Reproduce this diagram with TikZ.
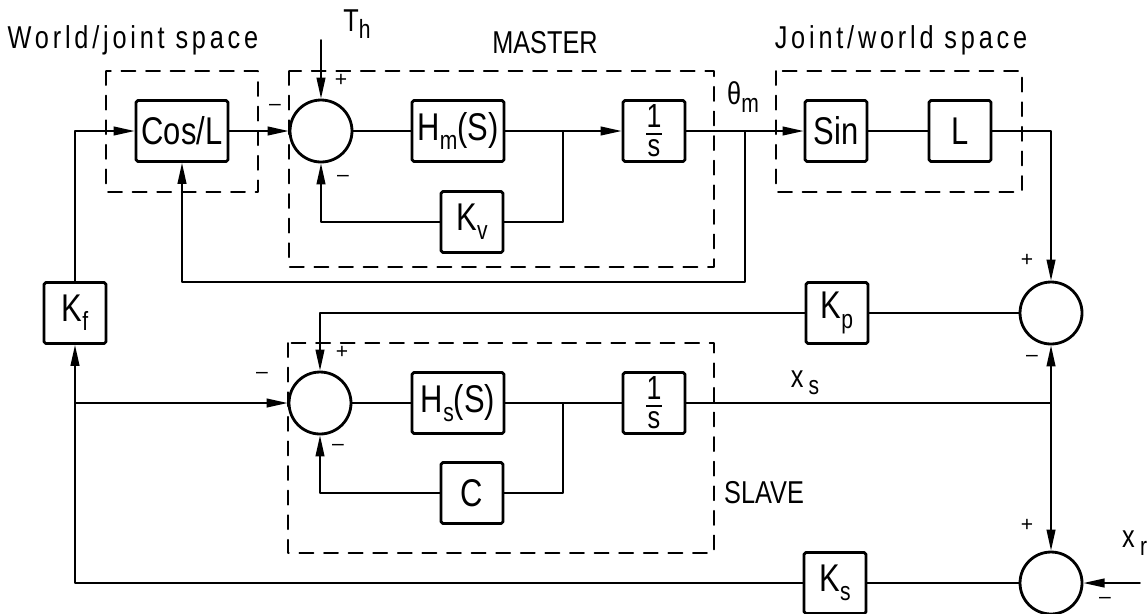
\documentclass[tikz,border=0pt]{standalone}
\usepackage{fontspec}
\setmainfont{Liberation Sans}
\newfontfamily\isofont[FakeStretch=0.8]{Liberation Sans}
\newfontfamily\isospaced[FakeStretch=0.8,LetterSpace=12]{Liberation Sans}
\usetikzlibrary{arrows.meta}
\newcommand{\lowsub}[1]{\raisebox{-0.45ex}{\fontsize{15}{15}\selectfont #1}}
\newcommand{\invs}{\vbox{\offinterlineskip\halign{\hfil##\hfil\cr
  \fontsize{19}{19}\selectfont 1\cr\noalign{\kern3pt}\rule{9pt}{0.8pt}\cr
  \noalign{\kern3pt}\fontsize{18}{18}\selectfont s\cr}}}
\tikzset{
  tp diagram/.style={x=0.02cm, y=-0.02cm, line cap=round, line join=round,
    font=\isofont\fontsize{22}{24}\selectfont},
  tp box/.style={draw, line width=1.6pt, rounded corners=1pt,
    minimum width=1.24cm, minimum height=1.22cm, inner sep=0pt},
  tp wide box/.style={tp box, minimum width=1.84cm},
  tp sum/.style={draw, circle, line width=1.6pt, minimum size=1.24cm, inner sep=0pt},
  tp line/.style={line width=1pt},
  tp arrow/.style={tp line, -{Triangle[length=12pt,width=5pt]}},
  tp frame/.style={line width=1pt, dash pattern=on 8pt off 6pt},
  tp title/.style={font=\isospaced\fontsize{18}{20}\selectfont},
  tp caps/.style={font=\isofont\fontsize{18}{20}\selectfont},
  tp sign/.style={font=\fontsize{12}{12}\selectfont, inner sep=0pt}
}
\begin{document}
\begin{tikzpicture}[tp diagram]
\useasboundingbox (0,0) rectangle (1148,613);
% dashed frames
\draw[tp frame] (106,71) rectangle (258,192);
\draw[tp frame] (289,71) rectangle (714,267);
\draw[tp frame] (776,71) rectangle (1022,192);
\draw[tp frame] (288,343) rectangle (714,553);
% master loop
\node[tp wide box] (cos) at (182,131) {Cos/L};
\node[tp sum] (sum m) at (321,131) {};
\node[tp wide box] (hm) at (458,131) {H\lowsub{m}(S)};
\node[tp box] (int m) at (654,131) {\invs};
\node[tp box] (kv) at (472,222) {K\lowsub{v}};
\node[tp box] (sin) at (836,131) {Sin};
\node[tp box] (lbox) at (960,131) {L};
% slave loop
\node[tp sum] (sum s) at (320,403) {};
\node[tp wide box] (hs) at (458,403) {H\lowsub{s}(S)};
\node[tp box] (int s) at (654,403) {\invs};
\node[tp box] (cbox) at (472,493) {C};
% gains and comparators
\node[tp box] (kf) at (75,313) {K\lowsub{f}};
\node[tp box] (kp) at (837,313) {K\lowsub{p}};
\node[tp box] (ks) at (835,583) {K\lowsub{s}};
\node[tp sum] (sum p) at (1051,313) {};
\node[tp sum] (sum e) at (1051,583) {};
\coordinate (th in) at (321,40);
\coordinate (kv tap) at (563,131);
\coordinate (theta tap) at (745,131);
\coordinate (kf tap) at (75,403);
\coordinate (c tap) at (563,403);
\coordinate (xs tap) at (1051,403);
\coordinate (xr in) at (1140,583);
% connectors
\draw[tp arrow] (kf.north) |- (cos.west);
\draw[tp arrow] (cos) -- (sum m);
\draw[tp arrow] (th in) -- (sum m.north);
\draw[tp line] (sum m) -- (hm);
\draw[tp arrow] (hm) -- (int m);
\draw[tp line] (kv tap) |- (kv.east);
\draw[tp arrow] (kv.west) -| (sum m.south);
\draw[tp arrow] (int m) -- (sin);
\draw[tp arrow] (theta tap) -- ++(0,151) -| (cos.south);
\draw[tp line] (sin) -- (lbox);
\draw[tp arrow] (lbox.east) -| (sum p.north);
\draw[tp line] (sum p) -- (kp);
\draw[tp arrow] (kp.west) -| (sum s.north);
\draw[tp arrow] (kf tap) -- (sum s.west);
\draw[tp line] (sum s) -- (hs);
\draw[tp line] (hs) -- (int s);
\draw[tp line] (c tap) |- (cbox.east);
\draw[tp arrow] (cbox.west) -| (sum s.south);
\draw[tp line] (int s.east) -- (xs tap);
\draw[tp arrow] (xs tap) -- (sum p.south);
\draw[tp arrow] (xs tap) -- (sum e.north);
\draw[tp arrow] (xr in) -- (sum e.east);
\draw[tp line] (sum e) -- (ks);
\draw[tp arrow] (ks.west) -| (kf.south);
% labels
\node[tp title] (world lbl) at (133,40) {World/joint space};
\node[tp title] (joint lbl) at (901,40) {Joint/world space};
\node[tp caps] (master lbl) at (545,43) {MASTER};
\node[tp caps, anchor=west] (slave lbl) at (718,493) {SLAVE};
\node[tp caps] (th lbl) at (357,24) {T\lowsub{h}};
\node[tp caps] (theta lbl) at (743,97) {θ\lowsub{m}};
\node[tp caps] (xs lbl) at (805,383) {x\,\lowsub{s}};
\node[tp caps, anchor=west] (xr lbl) at (1116,543) {x\,\lowsub{r}};
% signs
\node[tp sign] at (275,107) {–};
\node[tp sign] at (341,80) {+};
\node[tp sign] at (343,178) {–};
\node[tp sign] at (1027,260) {+};
\node[tp sign] at (1032,358) {–};
\node[tp sign] at (342,352) {+};
\node[tp sign] at (262,375) {–};
\node[tp sign] at (338,447) {–};
\node[tp sign] at (1027,525) {+};
\node[tp sign] at (1105,600) {–};
\end{tikzpicture}
\end{document}
